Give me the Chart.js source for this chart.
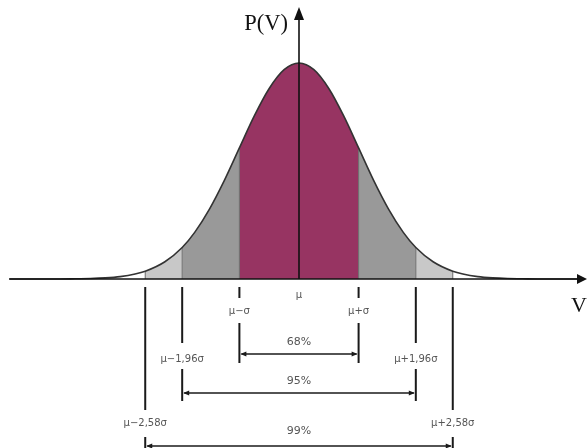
<!DOCTYPE html>
<html>
<head>
<meta charset="utf-8">
<script src="https://cdn.jsdelivr.net/npm/chart.js@4/dist/chart.umd.min.js"></script>
<style>
  html, body { margin: 0; padding: 0; background: #ffffff; }
  #wrap { width: 587px; height: 448px; }
</style>
</head>
<body>
<div id="wrap"><canvas id="c" width="587" height="448"></canvas></div>
<script>
// Normal curve, relative density P(V) read at positions V = mu + z*sigma
const curveZ = [-4.85, -4.5, -4.25, -4, -3.75, -3.5, -3.25, -3, -2.75, -2.58, -2.25, -1.96, -1.75, -1.5, -1.25, -1, -0.75, -0.5, -0.25,
                0, 0.25, 0.5, 0.75, 1, 1.25, 1.5, 1.75, 1.96, 2.25, 2.58, 2.75, 3, 3.25, 3.5, 3.75, 4, 4.25, 4.5, 4.75];
const curveP = [0, 0, 0, 0, 0.001, 0.002, 0.005, 0.011, 0.023, 0.036, 0.080, 0.146, 0.216, 0.325, 0.458, 0.607, 0.755, 0.882, 0.969,
                1.000, 0.969, 0.882, 0.755, 0.607, 0.458, 0.325, 0.216, 0.146, 0.080, 0.036, 0.023, 0.011, 0.005, 0.002, 0.001, 0, 0, 0, 0];

// Marked positions (in sigma units) and their labels
const boundZ = [-2.58, -1.96, -1, 0, 1, 1.96, 2.58];
const boundLabels = ['\u03bc\u22122,58\u03c3', '\u03bc\u22121,96\u03c3', '\u03bc\u2212\u03c3', '\u03bc', '\u03bc+\u03c3', '\u03bc+1,96\u03c3', '\u03bc+2,58\u03c3'];

// Symmetric intervals (half-width in sigma) and the share they cover
const spanZ = [1, 1.96, 2.58];
const spanLabels = ['68%', '95%', '99%'];

const axisLabelY = 'P(V)';
const axisLabelX = 'V';

const pts = curveZ.map((z, i) => ({ x: z, y: curveP[i] }));
const between = (a, b) => pts.filter(p => p.x >= a - 1e-9 && p.x <= b + 1e-9);
const heightAt = z => curveP[curveZ.findIndex(v => Math.abs(v - z) < 1e-9)];

const fillStyle = (data, color) => ({
  data, fill: 'origin', backgroundColor: color, borderWidth: 0,
  pointRadius: 0, cubicInterpolationMode: 'monotone', order: 3
});

const datasets = [
  fillStyle(between(-spanZ[2], -spanZ[1]), '#c8c8c8'),
  fillStyle(between(-spanZ[1], -spanZ[0]), '#999999'),
  fillStyle(between(-spanZ[0], spanZ[0]), '#973462'),
  fillStyle(between(spanZ[0], spanZ[1]), '#999999'),
  fillStyle(between(spanZ[1], spanZ[2]), '#c8c8c8'),
];
// thin separators between shaded bands
boundZ.filter(z => z !== 0).forEach(z => {
  datasets.push({
    data: [{ x: z, y: 0 }, { x: z, y: heightAt(z) }],
    borderColor: '#6a6a6a', borderWidth: 1, pointRadius: 0, fill: false, order: 2
  });
});
// the curve itself
datasets.push({
  data: pts, borderColor: '#333333', borderWidth: 1.6, pointRadius: 0,
  fill: false, cubicInterpolationMode: 'monotone', order: 1
});

// scale: sigma = 59.6 px, mean at x = 299, baseline at y = 279, peak height 216 px
const SIG = 59.6, MU_PX = 299, BASE_PX = 279, PEAK_PX = 216, W = 587, H = 448;

function arrowHead(ctx, x, y, dir, len, half) {
  ctx.beginPath();
  ctx.moveTo(x, y);
  ctx.lineTo(x - dir * len, y - half);
  ctx.lineTo(x - dir * len, y + half);
  ctx.closePath();
  ctx.fill();
}

const annotate = {
  id: 'annotate',
  afterDatasetsDraw(chart) {
    const { ctx, scales: { x, y } } = chart;
    const y0 = y.getPixelForValue(0);
    const x0 = x.getPixelForValue(0);
    ctx.save();

    // horizontal axis with arrow
    ctx.strokeStyle = '#111'; ctx.fillStyle = '#111'; ctx.lineWidth = 1.6;
    ctx.beginPath(); ctx.moveTo(9, y0); ctx.lineTo(579, y0); ctx.stroke();
    arrowHead(ctx, 587, y0, 1, 10, 5);
    // vertical axis with arrow
    ctx.lineWidth = 1.6;
    ctx.beginPath(); ctx.moveTo(x0, y0); ctx.lineTo(x0, 18); ctx.stroke();
    ctx.beginPath(); ctx.moveTo(x0, 7); ctx.lineTo(x0 - 5, 20); ctx.lineTo(x0 + 5, 20); ctx.closePath(); ctx.fill();

    // axis titles
    ctx.font = '22.5px "Liberation Serif", "Times New Roman", serif';
    ctx.textBaseline = 'middle';
    ctx.textAlign = 'right';
    ctx.fillStyle = '#111';
    ctx.fillText(axisLabelY, 288, 24);
    ctx.textAlign = 'center';
    ctx.font = '22px "Liberation Serif", "Times New Roman", serif';
    ctx.fillText(axisLabelX, 579, 306);

    // marker lines and labels below the axis
    // per half-width: [tick top, tick bottom, label y, lower top, lower bottom, arrow y, pct label y] offsets from baseline
    const rows = {
      1:    [8, 19, 32, 44, 84, 75, 63],
      1.96: [8, 64, 80, 90, 122, 114, 102],
      2.58: [8, 131, 144, 158, 172, 167, 152]
    };
    ctx.textBaseline = 'middle';
    ctx.textAlign = 'center';
    boundZ.forEach((z, i) => {
      const px = x.getPixelForValue(z);
      ctx.fillStyle = '#555';
      if (z === 0) {
        ctx.font = '10px "DejaVu Sans", Verdana, sans-serif';
        ctx.fillText(boundLabels[i], px, y0 + 16);
        return;
      }
      const r = rows[Math.abs(z)];
      ctx.strokeStyle = '#1a1a1a'; ctx.lineWidth = 2;
      ctx.beginPath();
      ctx.moveTo(px, y0 + r[0]); ctx.lineTo(px, y0 + r[1]);
      ctx.moveTo(px, y0 + r[3]); ctx.lineTo(px, Math.min(y0 + r[4], H));
      ctx.stroke();
      ctx.font = '10px "DejaVu Sans", Verdana, sans-serif';
      ctx.fillText(boundLabels[i], px, y0 + r[2]);
    });

    // interval arrows with their percentages
    spanZ.forEach((s, i) => {
      const r = rows[s];
      const xl = x.getPixelForValue(-s), xr = x.getPixelForValue(s);
      const ay = y0 + r[5];
      ctx.strokeStyle = '#1a1a1a'; ctx.fillStyle = '#1a1a1a'; ctx.lineWidth = 1.5;
      ctx.beginPath(); ctx.moveTo(xl + 2, ay); ctx.lineTo(xr - 2, ay); ctx.stroke();
      arrowHead(ctx, xl + 1, ay, -1, 6, 2.5);
      arrowHead(ctx, xr - 1, ay, 1, 6, 2.5);
      ctx.fillStyle = '#555';
      ctx.font = '11px "DejaVu Sans", Verdana, sans-serif';
      ctx.fillText(spanLabels[i], (xl + xr) / 2, y0 + r[6]);
    });

    ctx.restore();
  }
};

new Chart(document.getElementById('c'), {
  type: 'line',
  data: { datasets },
  options: {
    responsive: false,
    animation: false,
    events: [],
    layout: { padding: 0, autoPadding: false },
    plugins: { legend: { display: false }, tooltip: { enabled: false } },
    scales: {
      x: { type: 'linear', display: false, min: -MU_PX / SIG, max: (W - MU_PX) / SIG },
      y: { type: 'linear', display: false, min: (BASE_PX - H) / PEAK_PX, max: BASE_PX / PEAK_PX }
    }
  },
  plugins: [annotate]
});
</script>
</body>
</html>
